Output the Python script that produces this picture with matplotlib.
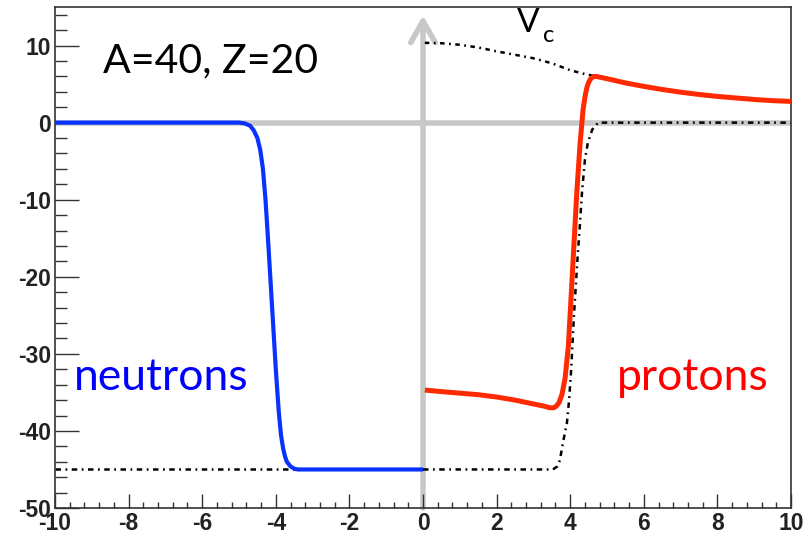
import matplotlib
matplotlib.use('Agg')
import matplotlib.pyplot as plt
from matplotlib.ticker import MultipleLocator

plt.rcParams['axes.unicode_minus'] = False

# neutron potential (blue)
n_x = [-10, -5.0, -4.85, -4.7, -4.6, -4.5, -4.42, -4.35, -4.28, -4.2, -4.1, -4.0, -3.92,
       -3.86, -3.8, -3.75, -3.7, -3.6, -3.5, -3.4, 0]
n_y = [0, 0, -0.1, -0.4, -1.0, -2.0, -3.6, -6.0, -10.0, -16.0, -24.0, -32.0, -37.5,
       -40.5, -42.3, -43.3, -44.0, -44.6, -44.9, -45.0, -45.0]

# proton potential (red)
p_x = [0.05, 0.5, 1.0, 1.5, 2.0, 2.5, 3.0, 3.3, 3.45, 3.55, 3.62, 3.7, 3.78, 3.86, 3.95,
       4.02, 4.1, 4.18, 4.27, 4.35, 4.4, 4.45, 4.5, 4.55, 4.62, 4.7, 4.8, 5.0, 5.5, 6.0,
       6.5, 7.0, 7.5, 8.0, 8.5, 9.0, 9.5, 10.0]
p_y = [-34.7, -34.9, -35.1, -35.3, -35.6, -36.0, -36.5, -36.8, -37.0, -37.0, -36.8, -36.3,
       -35.2, -33.2, -29.0, -23.0, -16.0, -9.0, -2.6, 1.7, 3.3, 4.5, 5.2, 5.65, 5.95, 6.0,
       5.9, 5.7, 5.15, 4.7, 4.3, 3.95, 3.65, 3.4, 3.2, 3.0, 2.85, 2.75]

# nuclear well, dash-dot (left and right halves)
wl_x = [-10, 0]
wl_y = [-45, -45]
wr_x = [0, 3.53, 3.65, 3.72, 3.8, 3.91, 3.97, 4.02, 4.1, 4.2, 4.26, 4.32, 4.4, 4.48, 4.6,
        4.76, 10]
wr_y = [-45, -45, -44.6, -43.8, -41.6, -39.0, -36.0, -32.5, -25.2, -17.5, -13.5, -9.1,
        -4.8, -2.6, -0.9, 0, 0]

# Coulomb potential Vc (dotted)
vc_x = [0.05, 0.5, 1.0, 1.5, 2.0, 2.5, 3.0, 3.5, 4.0, 4.4, 4.75]
vc_y = [10.35, 10.3, 10.1, 9.75, 9.25, 8.8, 8.35, 7.7, 6.8, 6.3, 5.95]

xticks = [-10, -8, -6, -4, -2, 0, 2, 4, 6, 8, 10]
yticks = [-50, -40, -30, -20, -10, 0, 10]

fig = plt.figure(figsize=(8.11, 5.35), dpi=100)
ax = fig.add_axes([55/811, 1-508/535, 736/811, 501/535])

gray = '#c8c8c8'
ax.axhline(0, color=gray, lw=4, zorder=1)
ax.annotate('', xy=(0, 13.9), xytext=(0, -50),
            arrowprops=dict(arrowstyle='->, head_length=0.7, head_width=0.4',
                            color=gray, lw=4, mutation_scale=22, shrinkA=0, shrinkB=0),
            zorder=1)

dd = (2.2, 1.8, 0.7, 1.8)
ax.plot(wl_x, wl_y, color='black', lw=1.8, dashes=dd, zorder=2)
ax.plot(wr_x, wr_y, color='black', lw=1.8, dashes=dd, zorder=2)
ax.plot(vc_x, vc_y, color='black', lw=1.8, dashes=(1.8, 1.8, 0.7, 1.8), zorder=2)

ax.plot(n_x, n_y, color='#0a32ff', lw=3.0, zorder=3, solid_capstyle='butt')
ax.plot(p_x, p_y, color='#ff2a00', lw=3.6, zorder=3, solid_capstyle='butt')

ax.set_xlim(-10, 10)
ax.set_ylim(-50, 15)
ax.set_xticks(xticks)
ax.set_yticks(yticks)
ax.xaxis.set_minor_locator(MultipleLocator(0.4))
ax.yaxis.set_minor_locator(MultipleLocator(2))
ax.tick_params(axis='both', which='both', direction='in', top=False, right=False,
               color='#333333', width=1)
ax.tick_params(axis='y', which='major', length=17, pad=3)
ax.tick_params(axis='y', which='minor', length=8.5)
ax.tick_params(axis='x', which='major', length=10, pad=3)
ax.tick_params(axis='x', which='minor', length=4.5)
for lab in ax.get_xticklabels() + ax.get_yticklabels():
    lab.set_fontfamily('Liberation Sans')
    lab.set_fontweight('bold')
    lab.set_fontsize(16.5)
    lab.set_color('#222222')
for s in ax.spines.values():
    s.set_color('#333333')
    s.set_linewidth(1.2)

font = 'Lato'
ax.text(-8.7, 6.5, 'A=40, Z=20', fontsize=29.5, family=font, color='black', va='baseline')
ax.text(-9.5, -34.7, 'neutrons', fontsize=32, family=font, color='#0000ff', va='baseline')
ax.text(5.27, -34.7, 'protons', fontsize=32, family=font, color='#ff0000', va='baseline')
ax.text(2.55, 11.8, 'V', fontsize=24, family=font, color='black', va='baseline')
ax.text(3.27, 10.4, 'c', fontsize=17, family=font, color='black', va='baseline')

plt.savefig('out.png', dpi=100)
